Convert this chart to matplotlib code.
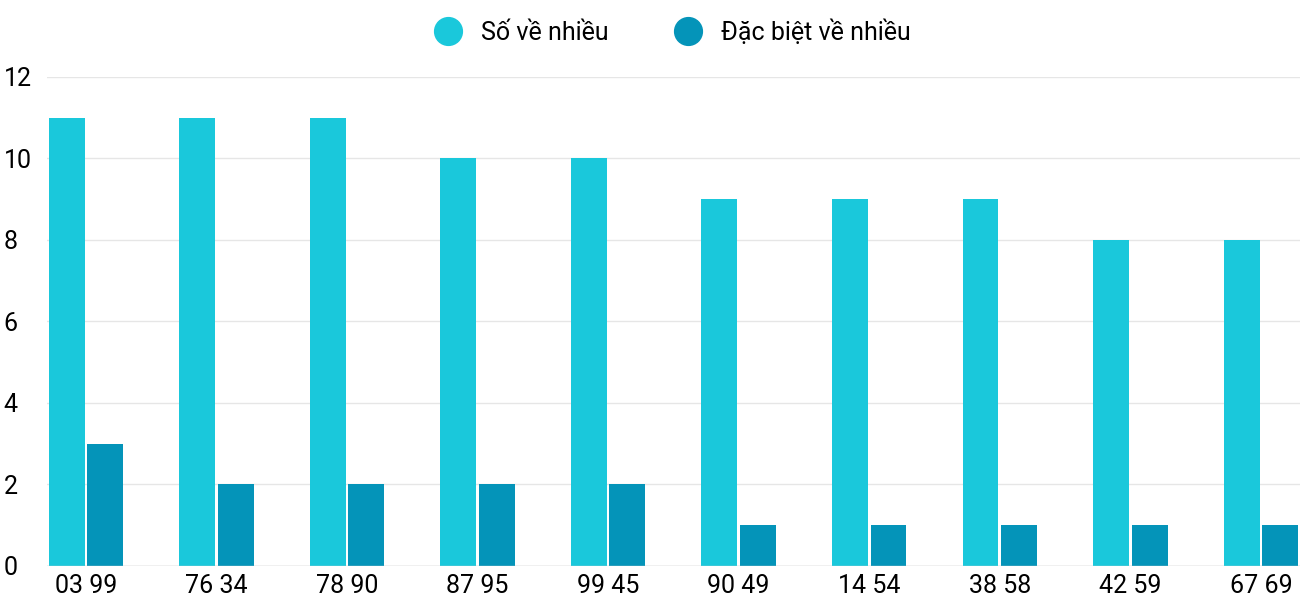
import matplotlib.pyplot as plt
import numpy as np
from matplotlib.lines import Line2D

plt.rcParams['font.family'] = ['Roboto', 'DejaVu Sans']

# Data
pairs = ['03 99', '76 34', '78 90', '87 95', '99 45', '90 49', '14 54', '38 58', '42 59', '67 69']
so_ve_nhieu = [11, 11, 11, 10, 10, 9, 9, 9, 8, 8]
dac_biet = [3, 2, 2, 2, 2, 1, 1, 1, 1, 1]

c1 = '#1AC8DB'
c2 = '#0494B9'

fig = plt.figure(figsize=(13, 6), dpi=100)
ax = fig.add_axes([0.036, 0.057, 0.964, 0.815])

x = np.arange(len(pairs))
w = 0.275
ax.bar(x - 0.01 - w / 2, so_ve_nhieu, width=w, color=c1, zorder=3)
ax.bar(x + 0.01 + w / 2, dac_biet, width=w, color=c2, zorder=3)

ax.set_xlim(-0.3, 9.3)
ax.set_ylim(0, 12)
ax.set_yticks(range(0, 13, 2))
ax.set_xticks(x)
ax.set_xticklabels(pairs, fontsize=18)
ax.tick_params(axis='y', labelsize=18, length=0, pad=31)
ax.tick_params(axis='x', length=0, pad=6)
for lab in ax.get_yticklabels():
    lab.set_horizontalalignment('left')
ax.grid(axis='y', color='#e6e6e6', linewidth=1, zorder=0)
for s in ax.spines.values():
    s.set_visible(False)
ax.axhline(0, color='#cccccc', linewidth=1, zorder=4)

handles = [
    Line2D([], [], marker='o', linestyle='', markersize=20, color=c1),
    Line2D([], [], marker='o', linestyle='', markersize=20, color=c2),
]
fig.legend(handles, ['Số về nhiều', 'Đặc biệt về nhiều'], loc='upper center',
           bbox_to_anchor=(0.513, 1.005), ncol=2, frameon=False, fontsize=18,
           handletextpad=0.3, columnspacing=2.2)

fig.savefig('out.png', dpi=100)
